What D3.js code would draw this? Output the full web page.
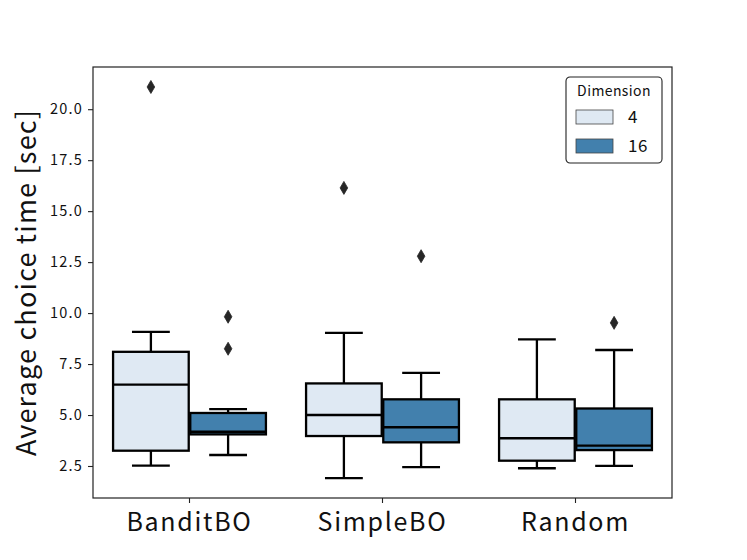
<!DOCTYPE html>
<html>
<head>
<meta charset="utf-8">
<script src="https://cdn.jsdelivr.net/npm/d3@7"></script>
<style>
  body { margin: 0; background: #fff; }
  text { font-family: "Noto Sans CJK JP", "DejaVu Sans", sans-serif; }
</style>
</head>
<body>
<svg id="chart" width="747" height="560"></svg>
<script>
// groups on x, hue levels
var methods = ["BanditBO", "SimpleBO", "Random"];
var dims = ["4", "16"];
var dimColors = ["#dfe9f3", "#4280ad"];

// box stats per method, order [dim 4, dim 16]
var q1      = [[3.25, 4.05], [3.97, 3.66], [2.76, 3.28]];
var median  = [[6.49, 4.18], [5.00, 4.40], [3.86, 3.50]];
var q3      = [[8.10, 5.10], [6.55, 5.77], [5.77, 5.32]];
var whiskLo = [[2.52, 3.04], [1.90, 2.44], [2.39, 2.51]];
var whiskHi = [[9.08, 5.29], [9.03, 7.07], [8.71, 8.19]];
var fliers  = [[[21.09], [9.82, 8.25]], [[16.14], [12.79]], [[], [9.52]]];

var yTicks = [2.5, 5.0, 7.5, 10.0, 12.5, 15.0, 17.5, 20.0];

var margin = {left: 93, right: 75, top: 67, bottom: 62};
var W = 747, H = 560;

var svg = d3.select('#chart');

var x = d3.scaleBand()
    .domain(methods)
    .range([margin.left, W - margin.right]);

var xHue = d3.scaleBand()
    .domain(dims)
    .range([0, x.bandwidth() * 0.8]);

var y = d3.scaleLinear()
    .domain([0.93, 22.07])
    .range([H - margin.bottom, margin.top]);

// build one record per box
var boxes = [];
methods.forEach(function(m, i){
    dims.forEach(function(d, j){
        boxes.push({
            method: m, dim: d, j: j,
            q1: q1[i][j], med: median[i][j], q3: q3[i][j],
            lo: whiskLo[i][j], hi: whiskHi[i][j], out: fliers[i][j]
        });
    });
});

var boxW = xHue.bandwidth() * 0.98;
var cx = function(d){
    return x(d.method) + x.bandwidth() * 0.1 + xHue(d.dim) + xHue.bandwidth() / 2;
};

var g = svg.append('g').selectAll('g.box')
    .data(boxes)
    .enter()
    .append('g')
    .attr('class', 'box');

g.each(function(d){
    var s = d3.select(this);
    var c = cx(d);
    // whiskers
    s.append('line').attr('x1', c).attr('x2', c).attr('y1', y(d.q3)).attr('y2', y(d.hi));
    s.append('line').attr('x1', c).attr('x2', c).attr('y1', y(d.q1)).attr('y2', y(d.lo));
    s.append('line').attr('x1', c - boxW / 4).attr('x2', c + boxW / 4).attr('y1', y(d.hi)).attr('y2', y(d.hi));
    s.append('line').attr('x1', c - boxW / 4).attr('x2', c + boxW / 4).attr('y1', y(d.lo)).attr('y2', y(d.lo));
    s.selectAll('line').attr('stroke', '#000').attr('stroke-width', 2.3);
    // box
    s.append('rect')
        .attr('x', c - boxW / 2)
        .attr('y', y(d.q3))
        .attr('width', boxW)
        .attr('height', y(d.q1) - y(d.q3))
        .attr('fill', dimColors[d.j])
        .attr('stroke', '#000')
        .attr('stroke-width', 2.3);
    s.append('line')
        .attr('x1', c - boxW / 2).attr('x2', c + boxW / 2)
        .attr('y1', y(d.med)).attr('y2', y(d.med))
        .attr('stroke', '#000').attr('stroke-width', 2.3);
    // fliers as diamonds
    s.selectAll('path.flier')
        .data(d.out)
        .enter()
        .append('path')
        .attr('class', 'flier')
        .attr('d', 'M0,-6.5L3.8,0L0,6.5L-3.8,0Z')
        .attr('transform', function(v){ return 'translate(' + c + ',' + y(v) + ')'; })
        .attr('fill', '#262626')
        .attr('stroke', '#262626')
        .attr('stroke-width', 0.8);
});

// axes
var yAxis = d3.axisLeft(y)
    .tickValues(yTicks)
    .tickFormat(d3.format('.1f'))
    .tickSize(5)
    .tickPadding(5);

var ya = svg.append('g')
    .attr('transform', 'translate(' + margin.left + ',0)')
    .call(yAxis);
ya.select('.domain').remove();
ya.selectAll('text').attr('font-size', 14.5).attr('fill', '#111')
    .attr('letter-spacing', 1.2)
    .style('font-family', '"Noto Sans CJK JP", "DejaVu Sans", sans-serif');
ya.selectAll('line').attr('stroke', '#222').attr('stroke-width', 1.1);

var xAxis = d3.axisBottom(x).tickSize(5).tickPadding(10);
var xa = svg.append('g')
    .attr('transform', 'translate(0,' + (H - margin.bottom) + ')')
    .call(xAxis);
xa.select('.domain').remove();
xa.selectAll('text').attr('font-size', 25).attr('fill', '#111')
    .attr('letter-spacing', 1.7)
    .style('font-family', '"Noto Sans CJK JP", "DejaVu Sans", sans-serif');
xa.selectAll('line').attr('stroke', '#222').attr('stroke-width', 1.1);

// frame
svg.append('rect')
    .attr('x', margin.left)
    .attr('y', margin.top)
    .attr('width', W - margin.left - margin.right)
    .attr('height', H - margin.top - margin.bottom)
    .attr('fill', 'none')
    .attr('stroke', '#222')
    .attr('stroke-width', 1.2);

// y label
svg.append('text')
    .attr('transform', 'translate(36,' + ((margin.top + H - margin.bottom) / 2) + ') rotate(-90)')
    .attr('text-anchor', 'middle')
    .attr('font-size', 27)
    .attr('letter-spacing', 1.2)
    .attr('fill', '#111')
    .text('Average choice time [sec]');

// legend
var lg = svg.append('g').attr('transform', 'translate(566,77)');
lg.append('rect')
    .attr('width', 96).attr('height', 86)
    .attr('rx', 4)
    .attr('fill', '#fff')
    .attr('stroke', '#222')
    .attr('stroke-width', 1.1);
lg.append('text')
    .attr('x', 48).attr('y', 19)
    .attr('text-anchor', 'middle')
    .attr('font-size', 14)
    .attr('letter-spacing', 0.4)
    .attr('fill', '#111')
    .text('Dimension');
var items = lg.selectAll('g.item')
    .data(dims)
    .enter()
    .append('g')
    .attr('class', 'item')
    .attr('transform', function(d, i){ return 'translate(10,' + (33 + i * 29) + ')'; });
items.append('rect')
    .attr('width', 37).attr('height', 14)
    .attr('fill', function(d, i){ return dimColors[i]; })
    .attr('stroke', '#444')
    .attr('stroke-width', 0.8);
items.append('text')
    .attr('x', 52).attr('y', 13)
    .attr('font-size', 17)
    .attr('letter-spacing', 0.6)
    .attr('fill', '#111')
    .text(function(d){ return d; });
</script>
</body>
</html>
